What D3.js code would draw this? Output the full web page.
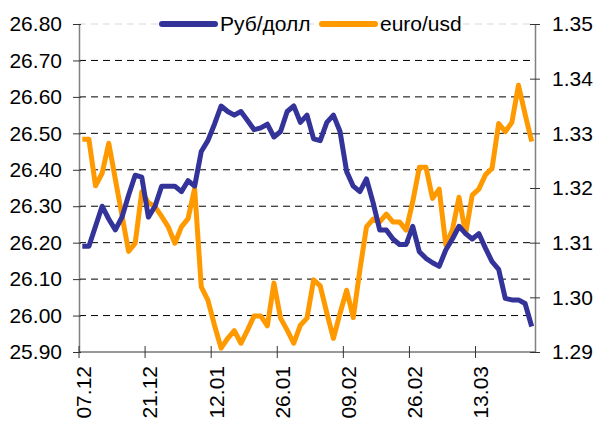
<!DOCTYPE html>
<html>
<head>
<meta charset="utf-8">
<script src="https://cdn.jsdelivr.net/npm/d3@7"></script>
<style>
  body { margin: 0; background: #fff; }
  svg { display: block; font-family: "Liberation Sans", Arial, sans-serif; }
</style>
</head>
<body>
<div id="chart"></div>
<script>
// Données (69 séances)
const rubUsd = [26.19, 26.19, 26.245, 26.30, 26.265, 26.235, 26.27, 26.33, 26.385, 26.38,
  26.27, 26.30, 26.355, 26.355, 26.355, 26.34, 26.37, 26.355, 26.45, 26.48,
  26.525, 26.575, 26.56, 26.55, 26.56, 26.535, 26.51, 26.515, 26.525, 26.49,
  26.505, 26.56, 26.575, 26.53, 26.55, 26.485, 26.48, 26.53, 26.55, 26.505,
  26.395, 26.355, 26.34, 26.375, 26.31, 26.235, 26.235, 26.21, 26.195, 26.195,
  26.245, 26.175, 26.157, 26.145, 26.135, 26.18, 26.21, 26.245, 26.225, 26.21,
  26.225, 26.185, 26.148, 26.127, 26.047, 26.043, 26.043, 26.033, 25.97];

const euroUsd = [1.3289, 1.3289, 1.3204, 1.3227, 1.3282, 1.3216, 1.315, 1.3084, 1.3099, 1.3193,
  1.3173, 1.3166, 1.3148, 1.3129, 1.3099, 1.3129, 1.3144, 1.3199, 1.3019, 1.2995,
  1.2949, 1.2907, 1.2925, 1.2939, 1.2916, 1.294, 1.2966, 1.2966, 1.2948, 1.3026,
  1.2962, 1.294, 1.2916, 1.2949, 1.2962, 1.3032, 1.3021, 1.2971, 1.2925, 1.2971,
  1.3013, 1.2963, 1.305, 1.3129, 1.3143, 1.3138, 1.3152, 1.3138, 1.3138, 1.3123,
  1.3175, 1.3238, 1.3238, 1.3181, 1.3198, 1.3096, 1.3123, 1.3183, 1.3116, 1.3187,
  1.3198, 1.3224, 1.3236, 1.3318, 1.3303, 1.332, 1.3388, 1.3335, 1.3285];

// Étiquettes de l'axe des dates (une toutes les 10 séances)
const dateLabels = ["07.12", "21.12", "12.01", "26.01", "09.02", "26.02", "13.03"];
const leftTicks = [25.90, 26.00, 26.10, 26.20, 26.30, 26.40, 26.50, 26.60, 26.70, 26.80];
const rightTicks = [1.29, 1.30, 1.31, 1.32, 1.33, 1.34, 1.35];
const seriesNames = ["Руб/долл", "euro/usd"];
const colors = ["#333399", "#FF9900"];

const width = 595, height = 421;
const plotLeft = 79, plotRight = 535, plotTop = 24, plotBottom = 352;
const fontSize = 21;

const svg = d3.select("#chart").append("svg")
    .attr("width", width)
    .attr("height", height);

// Échelle des catégories (séances)
const n = rubUsd.length;
const x = d3.scaleBand()
    .domain(d3.range(n))
    .range([plotLeft, plotRight]);
const xc = i => x(i) + x.bandwidth() / 2;

const yLeft = d3.scaleLinear().domain([25.90, 26.80]).range([plotBottom, plotTop]);
const yRight = d3.scaleLinear().domain([1.29, 1.35]).range([plotBottom, plotTop]);

// Lignes de grille pointillées
svg.append("g")
    .selectAll("line")
    .data(leftTicks.filter(d => d > 25.95))
    .join("line")
    .attr("x1", plotLeft)
    .attr("x2", plotRight)
    .attr("y1", d => yLeft(d))
    .attr("y2", d => yLeft(d))
    .attr("stroke", d => d > 26.75 ? "#d8d8d8" : "#000")
    .attr("stroke-width", 1)
    .attr("stroke-dasharray", "7,5");

// Axe de gauche
const axisL = svg.append("g")
    .attr("transform", `translate(${plotLeft},0)`)
    .call(d3.axisLeft(yLeft).tickValues(leftTicks).tickFormat(d3.format(".2f"))
        .tickSizeInner(6).tickSizeOuter(0).tickPadding(11));
axisL.select(".domain").attr("stroke", "#808080").attr("stroke-width", 1.5);
axisL.selectAll(".tick line").attr("x2", -6).attr("x1", 2).attr("stroke", "#333");
axisL.selectAll("text").attr("font-size", fontSize).attr("fill", "#000")
    .attr("font-family", "Liberation Sans, Arial, sans-serif");

// Axe de droite
const axisR = svg.append("g")
    .attr("transform", `translate(${plotRight},0)`)
    .call(d3.axisRight(yRight).tickValues(rightTicks).tickFormat(d3.format(".2f"))
        .tickSizeInner(6).tickSizeOuter(0).tickPadding(11));
axisR.select(".domain").attr("stroke", "#808080").attr("stroke-width", 1.5);
axisR.selectAll(".tick line").attr("x1", -5).attr("x2", 5).attr("stroke", "#333");
axisR.selectAll("text").attr("font-size", fontSize).attr("fill", "#000")
    .attr("font-family", "Liberation Sans, Arial, sans-serif");

// Axe des dates
const tickIdx = d3.range(0, n, 10);
svg.append("line")
    .attr("x1", plotLeft).attr("x2", plotRight)
    .attr("y1", plotBottom).attr("y2", plotBottom)
    .attr("stroke", "#333").attr("stroke-width", 1);
svg.append("g")
    .selectAll("line")
    .data(tickIdx)
    .join("line")
    .attr("x1", d => x(d))
    .attr("x2", d => x(d))
    .attr("y1", plotBottom - 6)
    .attr("y2", plotBottom + 6)
    .attr("stroke", "#333");
svg.append("g")
    .selectAll("text")
    .data(tickIdx)
    .join("text")
    .attr("transform", d => `translate(${x(d) + 5},${plotBottom + 14}) rotate(-90)`)
    .attr("text-anchor", "end")
    .attr("dy", "0.35em")
    .attr("font-size", fontSize)
    .text((d, i) => dateLabels[i]);

// Courbes
const lineL = d3.line().x((d, i) => xc(i)).y(d => yLeft(d));
const lineR = d3.line().x((d, i) => xc(i)).y(d => yRight(d));

svg.append("path")
    .datum(euroUsd)
    .attr("d", lineR)
    .attr("fill", "none")
    .attr("stroke", colors[1])
    .attr("stroke-width", 5)
    .attr("stroke-linejoin", "round");

svg.append("path")
    .datum(rubUsd)
    .attr("d", lineL)
    .attr("fill", "none")
    .attr("stroke", colors[0])
    .attr("stroke-width", 5)
    .attr("stroke-linejoin", "round");

// Légende
const legendPos = [160, 320];
const legend = svg.append("g");
seriesNames.forEach((name, i) => {
    legend.append("line")
        .attr("x1", legendPos[i] + 2).attr("x2", legendPos[i] + 55)
        .attr("y1", 24).attr("y2", 24)
        .attr("stroke", colors[i])
        .attr("stroke-width", 6)
        .attr("stroke-linecap", "round");
    legend.append("text")
        .attr("x", legendPos[i] + 60)
        .attr("y", 24)
        .attr("dy", "0.35em")
        .attr("font-size", fontSize)
        .text(name);
});
</script>
</body>
</html>
